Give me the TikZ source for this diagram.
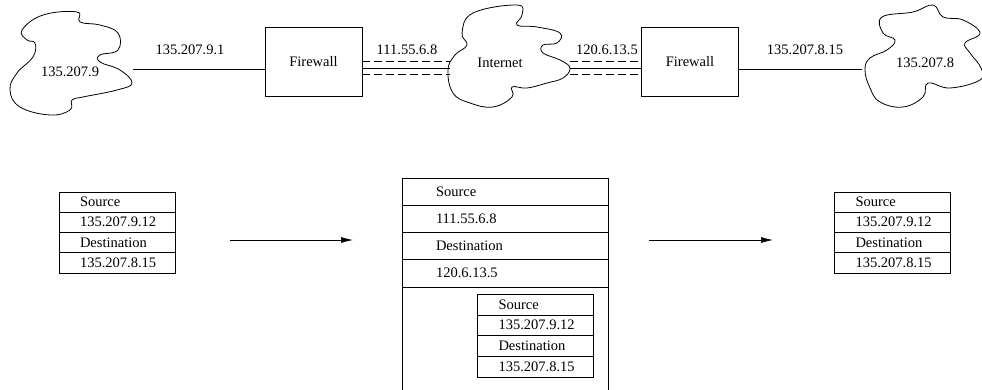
\documentclass[tikz,border=0pt]{standalone}
\usepackage{fontspec}
\setmainfont{Liberation Serif}
\usepackage{tikz}
\usetikzlibrary{arrows.meta,positioning}

\begin{document}
\begin{tikzpicture}[
    x=1pt, y=-1pt, font=\fontsize{14.5}{17}\selectfont,
    fwall/.style={draw, minimum width=97, minimum height=69},
    cloudline/.style={line width=0.8pt},
    tunnel/.style={dash pattern=on 8pt off 4pt},
    row/.style={draw, outer sep=0, minimum width=116, minimum height=20.25, inner xsep=21, inner ysep=0, text width=74, align=left},
    bigrow/.style={draw, outer sep=0, minimum width=206, minimum height=27.25, inner xsep=34, inner ysep=0, text width=138, align=left},
    move/.style={semithick, -{Latex[length=12,width=6]}},
]
\useasboundingbox (0,0) rectangle (982,390);

% networks
\draw[cloudline] plot[smooth cycle, tension=0.7] coordinates {(22,30) (43,15) (77,12) (80,22) (100,25) (118,33) (118,50) (100,55) (100,62) (120,70) (132,83) (117,90) (83,97) (72,100) (70,110) (50,115) (20,107) (10,90) (17,73) (33,57) (35,43) (27,40)};
\draw[cloudline] plot[smooth cycle, tension=0.7] coordinates {(462,33) (473,13) (517,5) (522,15) (517,25) (537,27) (560,33) (557,43) (543,45) (543,53) (560,60) (570,68) (563,78) (547,83) (527,88) (512,87) (512,97) (493,107) (470,103) (453,93) (448,70) (455,55) (467,45)};
\draw[cloudline] plot[smooth cycle, tension=0.7] coordinates {(883,33) (882,17) (913,12) (933,5) (943,17) (963,20) (980,33) (965,43) (970,53) (981,68) (980,80) (950,88) (928,83) (923,97) (903,107) (880,102) (870,88) (865,70) (870,58) (887,50) (895,40)};
\node (net9) at (70,72) {135.207.9};
\node (inet) at (500,63) {Internet};
\node (net8) at (925,63) {135.207.8};
\coordinate (net9r) at (133,69);
\coordinate (inetl) at (450,68);
\coordinate (inetr) at (570,68);
\coordinate (net8l) at (862,69);

\node[fwall] (fw1) at (313.5,61.5) {Firewall};
\node[fwall] (fw2) at (690,61.5) {Firewall};

\draw (net9r) -- (net9r -| fw1.west);
\draw (net8l) -- (net8l -| fw2.east);
\draw (inetl -| fw1.east) -- (inetl);
\draw[tunnel] ([yshift=-6]inetl -| fw1.east) -- ([yshift=-6]inetl);
\draw[tunnel] ([yshift=7]inetl -| fw1.east) -- ([yshift=7]inetl);
\draw (inetr) -- (inetr -| fw2.west);
\draw[tunnel] ([yshift=-6]inetr) -- ([yshift=-6]inetr -| fw2.west);
\draw[tunnel] ([yshift=7]inetr) -- ([yshift=7]inetr -| fw2.west);

\node (ip1) at (190,50) {135.207.9.1};
\node (ip2) at (407,50) {111.55.6.8};
\node (ip3) at (607,50) {120.6.13.5};
\node (ip4) at (805,50) {135.207.8.15};

% packets
\node[row] (src1) at (117,202) {Source};
\node[row, below=0pt of src1] (sa1) {135.207.9.12};
\node[row, below=0pt of sa1] (dst1) {Destination};
\node[row, below=0pt of dst1] (da1) {135.207.8.15};

\node[bigrow] (src2) at (505,191.5) {Source};
\node[bigrow, below=0pt of src2] (sa2) {111.55.6.8};
\node[bigrow, below=0pt of sa2] (dst2) {Destination};
\node[bigrow, below=0pt of dst2] (da2) {120.6.13.5};
\draw (da2.south west) -- (da2.south west |- 0,390);
\draw (da2.south east) -- (da2.south east |- 0,390);

\node[row, minimum height=20.75] (src3) at (535.5,304.5) {Source};
\node[row, minimum height=20.75, below=0pt of src3] (sa3) {135.207.9.12};
\node[row, minimum height=20.75, below=0pt of sa3] (dst3) {Destination};
\node[row, minimum height=20.75, below=0pt of dst3] (da3) {135.207.8.15};

\node[row] (src4) at (892.5,202) {Source};
\node[row, below=0pt of src4] (sa4) {135.207.9.12};
\node[row, below=0pt of sa4] (dst4) {Destination};
\node[row, below=0pt of dst4] (da4) {135.207.8.15};

\coordinate (m1a) at (230,240);
\coordinate (m1b) at (353,240);
\coordinate (m2a) at (649,240);
\coordinate (m2b) at (773,240);
\draw[move] (m1a) -- (m1b);
\draw[move] (m2a) -- (m2b);
\end{tikzpicture}
\end{document}
